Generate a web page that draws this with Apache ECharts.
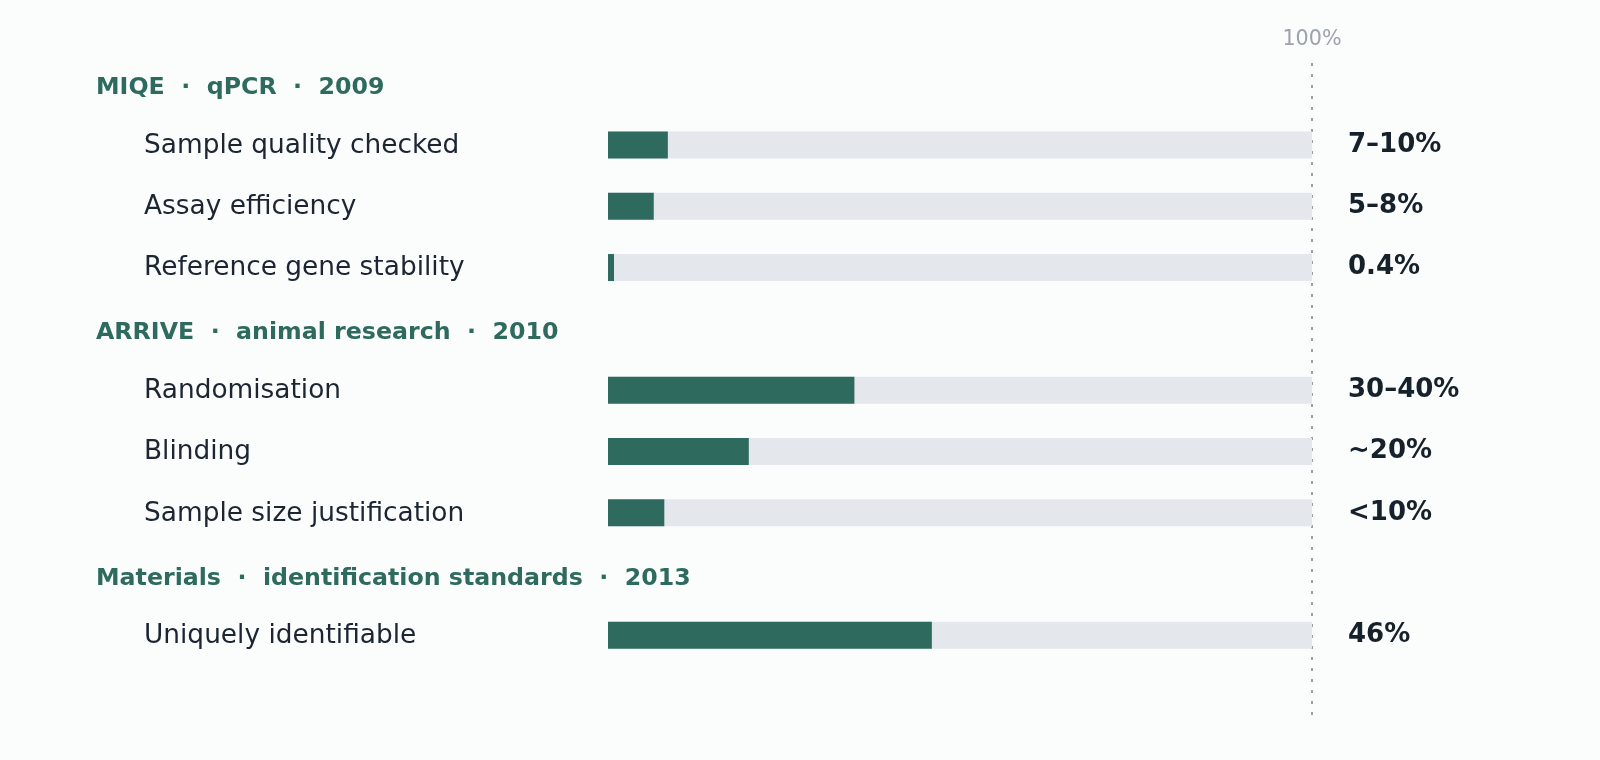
<!DOCTYPE html>
<html>
<head>
<meta charset="utf-8">
<title>Reporting compliance</title>
<script src="https://cdn.jsdelivr.net/npm/echarts@6/dist/echarts.min.js"></script>
<style>
  html, body { margin: 0; padding: 0; background: #fbfcfc; }
  #chart { width: 1600px; height: 760px; }
</style>
</head>
<body>
<div id="chart"></div>
<script>
// rows top to bottom; group headers sit in their own rows
const categories = [
  'MIQE  ·  qPCR  ·  2009',
  'Sample quality checked',
  'Assay efficiency',
  'Reference gene stability',
  'ARRIVE  ·  animal research  ·  2010',
  'Randomisation',
  'Blinding',
  'Sample size justification',
  'Materials  ·  identification standards  ·  2013',
  'Uniquely identifiable'
]
const headerRows = [0, 4, 8]
// share of papers reporting each item (%), '-' for header rows
const shares = ['-', 8.5, 6.5, 0.4, '-', 35, 20, 8, '-', 46]
const shareLabels = ['', '7–10%', '5–8%', '0.4%', '', '30–40%', '~20%', '<10%', '', '46%']
const fullScale = 100

const green = '#2e6b5e'
const font = 'DejaVu Sans'

let chart = echarts.init(document.getElementById('chart'))
chart.setOption({
  backgroundColor: '#fbfcfc',
  animation: false,
  textStyle: { fontFamily: font },
  grid: [
    { left: 608, right: 288, top: 53, height: 613 },
    { left: 608, right: 288, top: 63, bottom: 41 }
  ],
  xAxis: [
    { gridIndex: 0, type: 'value', min: 0, max: fullScale, show: false },
    {
      gridIndex: 1,
      type: 'value',
      min: 0,
      max: fullScale,
      interval: fullScale,
      position: 'top',
      axisLine: { show: false },
      axisTick: { show: false },
      axisLabel: {
        margin: 13,
        fontSize: 20.7,
        color: '#9ba3ad',
        fontFamily: font,
        formatter: v => (v === fullScale ? fullScale + '%' : '')
      },
      splitLine: {
        show: true,
        showMinLine: false,
        lineStyle: { color: '#9a9fa6', width: 2, type: [3, 8] }
      }
    }
  ],
  yAxis: [
    {
      gridIndex: 0,
      type: 'category',
      inverse: true,
      data: categories,
      axisLine: { show: false },
      axisTick: { show: false },
      splitLine: { show: false },
      axisLabel: {
        align: 'left',
        margin: 512,
        fontFamily: font,
        formatter: (value, index) =>
          headerRows.includes(index) ? '{head|' + value + '}' : '{item|' + value + '}',
        rich: {
          head: { fontSize: 23.7, fontWeight: 'bold', color: green, padding: [9, 0, 0, 0], fontFamily: font },
          item: { fontSize: 26.4, color: '#1c2531', padding: [2, 0, 0, 48], fontFamily: font }
        }
      }
    },
    { gridIndex: 1, type: 'value', min: 0, max: 1, show: false }
  ],
  series: [
    {
      type: 'bar',
      silent: true,
      barWidth: 27,
      data: categories.map((c, i) => (headerRows.includes(i) ? '-' : fullScale)),
      itemStyle: { color: '#e4e8ec' },
      label: {
        show: true,
        position: 'right',
        distance: 36,
        fontSize: 26,
        fontWeight: 'bold',
        color: '#17212b',
        fontFamily: font,
        formatter: p => shareLabels[p.dataIndex]
      }
    },
    {
      type: 'bar',
      silent: true,
      barWidth: 27,
      barGap: '-100%',
      barMinHeight: 6,
      data: shares,
      itemStyle: { color: green }
    },
    { type: 'line', xAxisIndex: 1, yAxisIndex: 1, data: [] }
  ]
})
</script>
</body>
</html>
